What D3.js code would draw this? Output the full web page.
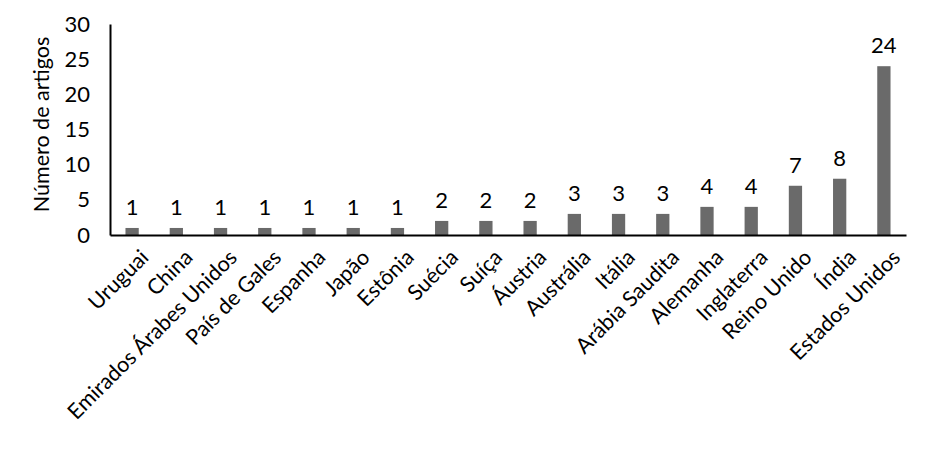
<!DOCTYPE html>
<html>
<head>
<meta charset="utf-8">
<script src="https://cdn.jsdelivr.net/npm/d3@7"></script>
<style>
  body { margin: 0; background: #fff; }
  text { font-family: Lato, "Open Sans", sans-serif; fill: #000; }
</style>
</head>
<body>
<svg width="931" height="450"></svg>
<script>
var countries = ["Uruguai", "China", "Emirados Árabes Unidos", "País de Gales", "Espanha", "Japão",
  "Estônia", "Suécia", "Suíça", "Áustria", "Austrália", "Itália", "Arábia Saudita", "Alemanha",
  "Inglaterra", "Reino Unido", "Índia", "Estados Unidos"];
var articles = [1, 1, 1, 1, 1, 1, 1, 2, 2, 2, 3, 3, 3, 4, 4, 7, 8, 24];
var yTicks = [0, 5, 10, 15, 20, 25, 30];

var svg = d3.select("svg");
var margin = {left: 110, top: 24, right: 25, bottom: 215};
var width = 931 - margin.left - margin.right,
    height = 450 - margin.top - margin.bottom;

var data = countries.map(function(c, i) { return {name: c, value: articles[i]}; });

var x = d3.scaleBand().domain(countries).range([0, width]).paddingInner(0.7).paddingOuter(0.35);
var y = d3.scaleLinear().domain([0, 30]).range([height, 0]);

var g = svg.append("g").attr("transform", "translate(" + margin.left + "," + margin.top + ")");

// bars
g.selectAll(".bar")
  .data(data)
  .enter().append("rect")
  .attr("class", "bar")
  .attr("x", function(d) { return x(d.name); })
  .attr("y", function(d) { return y(d.value); })
  .attr("width", x.bandwidth())
  .attr("height", function(d) { return height - y(d.value); })
  .attr("fill", "#6a6a6a");

// value labels
g.selectAll(".lbl")
  .data(data)
  .enter().append("text")
  .attr("class", "lbl")
  .attr("x", function(d) { return x(d.name) + x.bandwidth() / 2; })
  .attr("y", function(d) { return y(d.value) - 13; })
  .attr("text-anchor", "middle")
  .style("font-size", "22px")
  .text(function(d) { return d.value; });

// y axis
var yAxis = g.append("g")
  .call(d3.axisLeft(y).tickValues(yTicks).tickSize(0).tickPadding(20));
yAxis.select(".domain").attr("stroke", "#000").attr("stroke-width", 2);
yAxis.selectAll("text").style("font-size", "22px").style("font-family", "Lato, sans-serif").attr("fill", "#000");

// x axis
var xAxis = g.append("g")
  .attr("transform", "translate(0," + height + ")")
  .call(d3.axisBottom(x).tickSize(0).tickSizeOuter(0));
xAxis.select(".domain").attr("stroke", "#000").attr("stroke-width", 2);
xAxis.selectAll("text")
  .style("font-size", "21.5px")
  .style("font-family", "Lato, sans-serif")
  .attr("fill", "#000")
  .attr("text-anchor", "end")
  .attr("transform", "translate(7,13) rotate(-45)")
  .attr("dy", "0.71em")
  .attr("y", 0);

// y title
svg.append("text")
  .attr("transform", "translate(49," + (margin.top + height / 2 - 5) + ") rotate(-90)")
  .attr("text-anchor", "middle")
  .style("font-size", "21.5px")
  .text("Número de artigos");
</script>
</body>
</html>
